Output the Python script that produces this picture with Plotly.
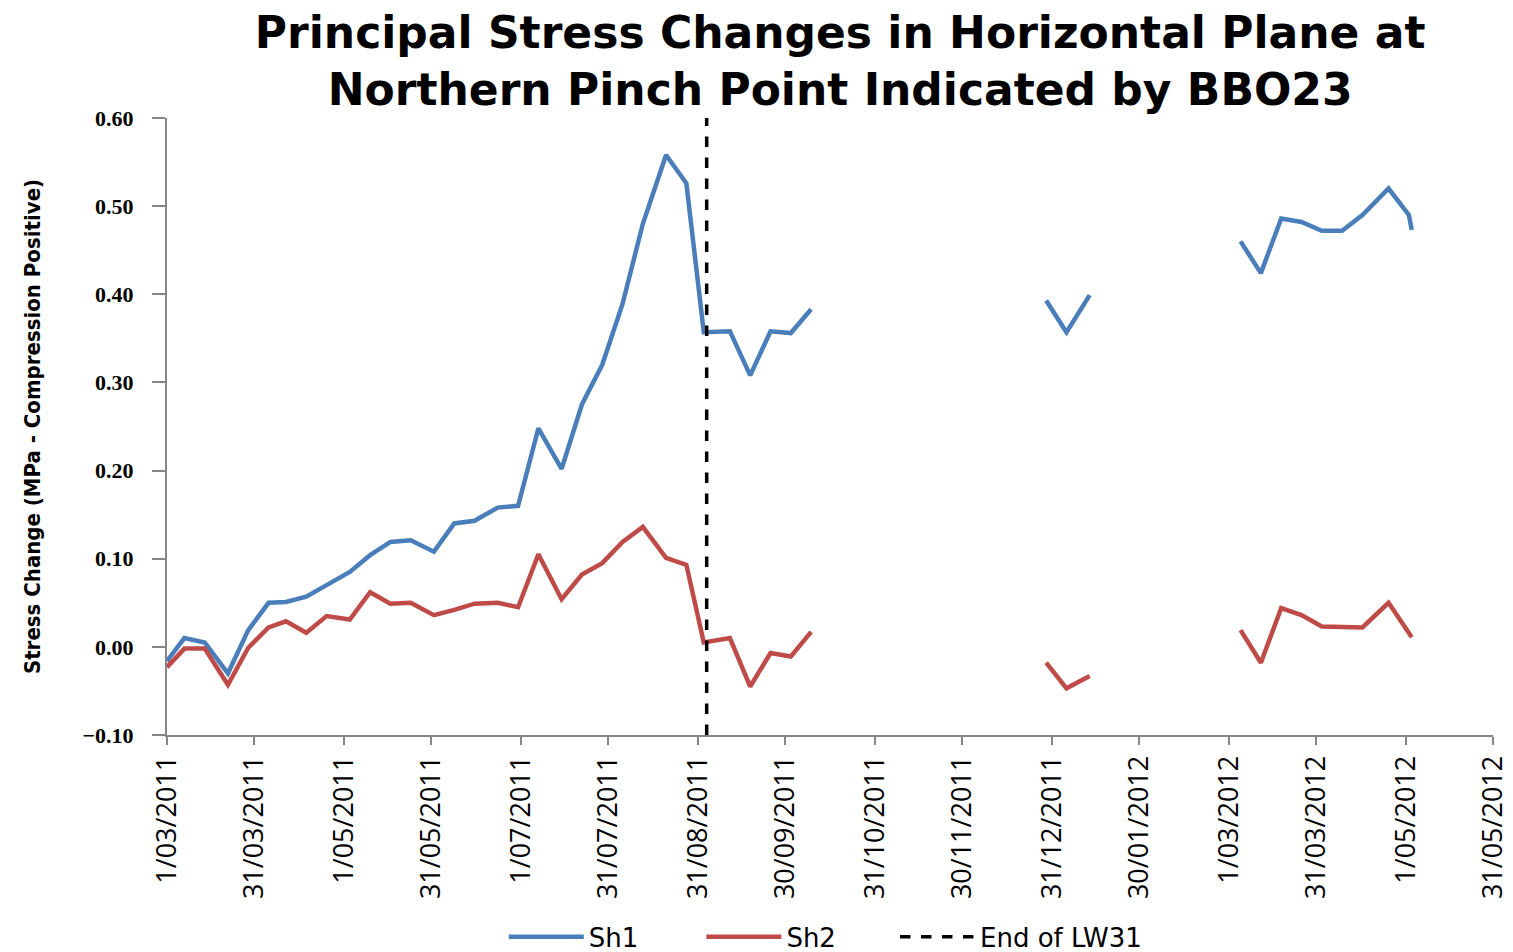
import plotly.graph_objects as go

# Survey dates and principal stress changes (MPa)
dates = [
    "2011-03-01", "2011-03-07", "2011-03-14", "2011-03-22", "2011-03-29",
    "2011-04-05", "2011-04-11", "2011-04-18", "2011-04-25", "2011-05-03",
    "2011-05-10", "2011-05-17", "2011-05-24", "2011-06-01", "2011-06-08",
    "2011-06-15", "2011-06-23", "2011-06-30", "2011-07-07", "2011-07-15",
    "2011-07-22", "2011-07-29", "2011-08-05", "2011-08-12", "2011-08-20",
    "2011-08-27", "2011-09-02", "2011-09-11", "2011-09-18", "2011-09-25",
    "2011-10-02", "2011-10-09",
    "2011-11-15",
    "2011-12-29", "2012-01-05", "2012-01-13",
    "2012-02-10",
    "2012-03-05", "2012-03-12", "2012-03-19", "2012-03-26", "2012-04-02",
    "2012-04-09", "2012-04-16", "2012-04-25", "2012-05-02", "2012-05-03",
]

sh1 = [
    -0.016, 0.010, 0.005, -0.030, 0.019,
    0.050, 0.051, 0.057, 0.070, 0.085,
    0.104, 0.119, 0.121, 0.108, 0.140,
    0.143, 0.158, 0.160, 0.248, 0.202,
    0.275, 0.320, 0.389, 0.480, 0.558,
    0.526, 0.357, 0.358, 0.308, 0.358,
    0.356, 0.383,
    None,
    0.393, 0.357, 0.399,
    None,
    0.460, 0.424, 0.486, 0.482, 0.472,
    0.472, 0.490, 0.520, 0.490, 0.473,
]

sh2 = [
    -0.023, -0.002, -0.002, -0.043, -0.001,
    0.022, 0.029, 0.016, 0.035, 0.031,
    0.062, 0.049, 0.050, 0.036, 0.042,
    0.049, 0.050, 0.045, 0.105, 0.054,
    0.082, 0.095, 0.119, 0.136, 0.101,
    0.093, 0.005, 0.010, -0.045, -0.007,
    -0.011, 0.017,
    None,
    -0.018, -0.047, -0.033,
    None,
    0.019, -0.018, 0.044, 0.036, 0.023,
    0.023, 0.022, 0.050, 0.014, 0.011,
]

end_lw31 = "2011-09-03"
end_y = [-0.10, 0.60]

tick_dates = [
    "2011-03-01", "2011-03-31", "2011-05-01", "2011-05-31", "2011-07-01",
    "2011-07-31", "2011-08-31", "2011-09-30", "2011-10-31", "2011-11-30",
    "2011-12-31", "2012-01-30", "2012-03-01", "2012-03-31", "2012-05-01",
    "2012-05-31",
]
tick_labels = [
    "1/03/2011", "31/03/2011", "1/05/2011", "31/05/2011", "1/07/2011",
    "31/07/2011", "31/08/2011", "30/09/2011", "31/10/2011", "30/11/2011",
    "31/12/2011", "30/01/2012", "1/03/2012", "31/03/2012", "1/05/2012",
    "31/05/2012",
]

fig = go.Figure()
fig.add_trace(go.Scatter(x=dates, y=sh1, mode="lines", name="Sh1", legend="legend",
                         line=dict(color="#4A7EBB", width=4.5)))
fig.add_trace(go.Scatter(x=dates, y=sh2, mode="lines", name="Sh2", legend="legend2",
                         line=dict(color="#BE4B48", width=4.5)))
fig.add_trace(go.Scatter(x=[end_lw31, end_lw31], y=end_y, mode="lines",
                         name="End of LW31", legend="legend3",
                         line=dict(color="black", width=3.5, dash="dash")))

leg_font = dict(family="DejaVu Sans", size=26, color="black")
leg_common = dict(orientation="h", y=-0.327, yanchor="middle", xanchor="left",
                  font=leg_font, itemwidth=75, bgcolor="rgba(0,0,0,0)")

fig.update_layout(
    width=1513, height=952,
    paper_bgcolor="white", plot_bgcolor="white",
    margin=dict(l=159, r=28, t=110, b=225, autoexpand=False),
    title=dict(
        text="Principal Stress Changes in Horizontal Plane at<br>Northern Pinch Point Indicated by BBO23",
        x=0.55, xanchor="center", y=0.958, yanchor="middle",
        font=dict(family="DejaVu Sans", size=44, color="black", weight="bold"),
    ),
    showlegend=True,
    legend=dict(x=0.254, **leg_common),
    legend2=dict(x=0.403, **leg_common),
    legend3=dict(x=0.549, **leg_common),
)

fig.update_xaxes(
    range=["2011-03-01", "2012-05-31"], automargin=False,
    tickmode="array", tickvals=tick_dates, ticktext=tick_labels,
    tickangle=-90, ticks="outside", ticklen=8, tickcolor="#868686", tickwidth=2,
    showline=True, linecolor="#868686", linewidth=2, showgrid=False, zeroline=False,
    tickfont=dict(family="Open Sans", size=27, color="black"),
)
fig.update_yaxes(
    range=[-0.10, 0.60], dtick=0.1, tick0=0, tickformat=".2f", automargin=False,
    ticks="outside", ticklen=13, tickcolor="#868686", tickwidth=2,
    ticklabelstandoff=14,
    showline=True, linecolor="#868686", linewidth=2, showgrid=False, zeroline=False,
    tickfont=dict(family="Liberation Serif", size=22, color="black", weight="bold"),
    title=dict(text="Stress Change (MPa - Compression Positive)",
               font=dict(family="DejaVu Sans Condensed", size=22, color="black", weight="bold"),
               standoff=36),
)

fig.write_html("out.html")
